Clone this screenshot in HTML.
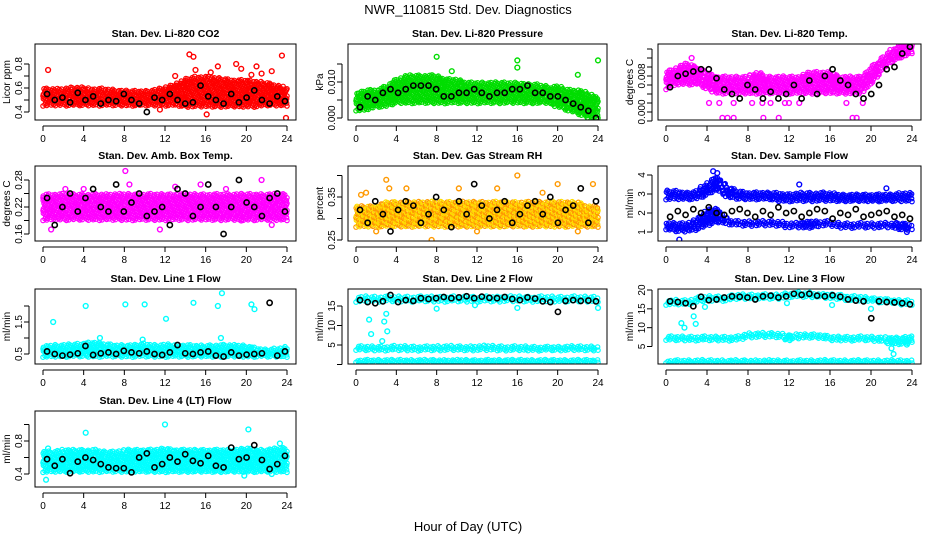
<!DOCTYPE html>
<html><head><meta charset="utf-8"><style>
body{margin:0;background:#fff;}
svg{display:block;font-family:"Liberation Sans",sans-serif;}
</style></head><body>
<svg id="chart" width="936" height="540" viewBox="0 0 936 540">
<text x="468" y="14" text-anchor="middle" font-size="13">NWR_110815  Std. Dev. Diagnostics</text>
<text x="468" y="531" text-anchor="middle" font-size="13">Hour of Day (UTC)</text>
</svg>
<script>
var xTicks = [0,4,8,12,16,20,24];
var titles = ["Stan. Dev. Li-820 CO2","Stan. Dev. Li-820 Pressure","Stan. Dev. Li-820 Temp.","Stan. Dev. Amb. Box Temp.","Stan. Dev. Gas Stream RH","Stan. Dev. Sample Flow","Stan. Dev. Line 1 Flow","Stan. Dev. Line 2 Flow","Stan. Dev. Line 3 Flow","Stan. Dev. Line 4 (LT) Flow"];
var yLabels = ["Licor ppm","kPa","degrees C","degrees C","percent","ml/min","ml/min","ml/min","ml/min","ml/min"];

var co2Lo = [0.45,0.45,0.45,0.45,0.45,0.45,0.45,0.45,0.45,0.45,0.45,0.45,0.45,0.45,0.44,0.44,0.44,0.44,0.44,0.44,0.44,0.44,0.45,0.45,0.45];
var co2Hi = [0.6,0.6,0.6,0.61,0.61,0.6,0.6,0.59,0.58,0.58,0.58,0.59,0.61,0.64,0.68,0.7,0.7,0.69,0.68,0.67,0.67,0.66,0.65,0.63,0.6];
var co2Black = [0.55,0.5,0.52,0.48,0.56,0.5,0.53,0.47,0.5,0.49,0.55,0.5,0.47,0.4,0.52,0.5,0.55,0.5,0.47,0.48,0.62,0.53,0.5,0.47,0.55,0.48,0.52,0.58,0.5,0.47,0.53,0.49];
var co2OutH = [0.5,14.4,14.8,18.2,23.5,23.9,16.1,19,21,15,11.5,17.2,21.5,13,19.5,22.5,16.5,20.5];
var co2OutV = [0.75,0.88,0.86,1.0,0.87,0.35,0.38,0.8,0.78,0.75,0.42,0.78,0.72,0.7,0.76,0.74,0.73,0.71];

var presLo = [0.002,0.002,0.003,0.003,0.004,0.004,0.004,0.004,0.004,0.004,0.004,0.004,0.004,0.004,0.004,0.004,0.004,0.004,0.004,0.004,0.003,0.002,0.001,0.0,0.0];
var presHi = [0.007,0.008,0.008,0.009,0.011,0.012,0.012,0.012,0.012,0.011,0.011,0.01,0.01,0.01,0.01,0.01,0.01,0.0095,0.0095,0.009,0.009,0.008,0.008,0.007,0.006];
var presBlack = [0.003,0.006,0.005,0.007,0.008,0.007,0.008,0.009,0.009,0.009,0.008,0.006,0.006,0.007,0.007,0.008,0.007,0.006,0.007,0.007,0.008,0.008,0.009,0.007,0.007,0.006,0.006,0.005,0.004,0.003,0.002,0.0];
var presOutH = [8,16,24,16,9.5,22];
var presOutV = [0.017,0.014,0.016,0.016,0.013,0.012];

var tempLo = [0.005,0.006,0.006,0.006,0.005,0.004,0.004,0.004,0.004,0.004,0.004,0.004,0.004,0.004,0.004,0.004,0.004,0.004,0.004,0.004,0.006,0.009,0.011,0.012,0.013];
var tempHi = [0.009,0.01,0.011,0.01,0.009,0.008,0.008,0.008,0.008,0.009,0.008,0.008,0.008,0.008,0.009,0.009,0.009,0.008,0.008,0.008,0.01,0.012,0.014,0.0155,0.0155];
var tempBlack = [0.0055,0.008,0.0085,0.009,0.0095,0.0095,0.0075,0.005,0.004,0.003,0.006,0.005,0.003,0.0045,0.003,0.004,0.006,0.003,0.007,0.004,0.008,0.0095,0.007,0.006,0.004,0.003,0.004,0.006,0.0095,0.01,0.013,0.0145];
var tempOutH = [5.5,6,6.6,11,18.2,18.6,9.5,2.5,4.2,6.6,8.4,10.2,12,13,17.6,19.2,5.2,9.4,11.6];
var tempOutV = [-0.0013,-0.0013,-0.0013,-0.0013,-0.0013,-0.0013,-0.0013,0.012,0.002,0.002,0.002,0.002,0.002,0.002,0.002,0.002,0.002,0.002,0.002];

var ambLo = [0.19,0.19,0.19,0.19,0.19,0.19,0.19,0.19,0.19,0.19,0.19,0.19,0.19,0.19,0.19,0.19,0.19,0.19,0.19,0.19,0.19,0.19,0.19,0.19,0.19];
var ambHi = [0.25,0.25,0.25,0.25,0.25,0.25,0.25,0.25,0.25,0.25,0.25,0.25,0.25,0.25,0.25,0.25,0.25,0.25,0.25,0.25,0.25,0.25,0.25,0.25,0.25];
var ambBlack = [0.24,0.18,0.22,0.25,0.21,0.24,0.26,0.22,0.21,0.27,0.21,0.23,0.25,0.2,0.21,0.22,0.18,0.26,0.25,0.2,0.22,0.27,0.22,0.16,0.22,0.28,0.23,0.22,0.2,0.24,0.25,0.21];
var ambOutH = [8.1,0.8,8.5,21.5,15.5,2.2,19.5,22.5,11.5,4,13,18];
var ambOutV = [0.3,0.17,0.27,0.28,0.27,0.26,0.19,0.18,0.17,0.26,0.265,0.26];

var rhLo = [0.28,0.28,0.28,0.28,0.28,0.28,0.28,0.28,0.28,0.28,0.28,0.28,0.28,0.28,0.28,0.28,0.28,0.28,0.28,0.28,0.28,0.28,0.28,0.28,0.28];
var rhHi = [0.33,0.33,0.33,0.34,0.34,0.34,0.34,0.34,0.34,0.34,0.34,0.34,0.34,0.34,0.34,0.34,0.34,0.34,0.34,0.34,0.34,0.34,0.34,0.33,0.33];
var rhBlack = [0.32,0.29,0.34,0.31,0.27,0.32,0.34,0.33,0.29,0.31,0.35,0.32,0.28,0.34,0.31,0.38,0.33,0.3,0.32,0.34,0.29,0.31,0.33,0.34,0.31,0.35,0.29,0.32,0.33,0.37,0.29,0.34];
var rhOutH = [3,3.3,5,10.2,14,23.5,7.5,1,20,16,0.5,2,12,18.5,22];
var rhOutV = [0.39,0.37,0.37,0.37,0.37,0.38,0.25,0.36,0.38,0.4,0.355,0.27,0.27,0.36,0.27];

var sfLo = [2.7,2.7,2.7,2.7,2.9,3.2,2.8,2.7,2.7,2.7,2.7,2.6,2.6,2.6,2.6,2.6,2.6,2.6,2.6,2.6,2.6,2.6,2.6,2.6,2.6];
var sfHi = [3.2,3.2,3.1,3.2,3.6,4.0,3.4,3.2,3.1,3.1,3.1,3.1,3.0,3.1,3.1,3.1,3.1,3.0,3.0,3.0,3.0,3.0,3.0,3.1,3.1];
var sf2Lo = [1.1,1.0,1.0,1.1,1.3,1.5,1.4,1.3,1.3,1.3,1.3,1.3,1.2,1.2,1.2,1.3,1.3,1.2,1.2,1.2,1.2,1.2,1.2,1.1,1.1];
var sf2Hi = [1.5,1.5,1.5,1.7,2.2,2.3,1.7,1.6,1.6,1.6,1.6,1.6,1.5,1.5,1.6,1.6,1.6,1.5,1.5,1.5,1.5,1.5,1.5,1.5,1.4];
var sfBlack = [1.8,2.1,1.9,2.2,2.0,2.3,2.0,1.9,2.1,2.2,2.0,1.8,2.1,1.9,2.3,2.0,2.1,1.8,2.0,2.2,2.1,1.7,2.0,1.9,2.2,1.8,1.9,2.0,2.1,1.8,1.9,1.7];
var sfOutH = [1.3,4.6,5,13,21.5,23.5];
var sfOutV = [0.6,4.2,4.1,3.5,3.3,1.0];

var l1Lo = [0.4,0.4,0.4,0.4,0.4,0.4,0.4,0.4,0.4,0.4,0.4,0.4,0.4,0.4,0.4,0.4,0.4,0.4,0.4,0.4,0.4,0.4,0.4,0.4,0.4];
var l1Hi = [0.75,0.8,0.8,0.82,0.85,0.9,0.85,0.8,0.8,0.8,0.85,0.8,0.82,0.8,0.8,0.78,0.78,0.8,0.8,0.8,0.78,0.7,0.65,0.7,0.75];
var l1Black = [0.58,0.5,0.45,0.48,0.52,0.75,0.47,0.52,0.55,0.5,0.6,0.55,0.52,0.58,0.5,0.47,0.55,0.78,0.52,0.5,0.55,0.58,0.45,0.42,0.55,0.45,0.48,0.5,0.52,2.1,0.45,0.58];
var l1OutH = [1,4.2,8.1,10,12.1,14.8,17.2,17.6,20.5,20.8,5.6,9.8,17.5];
var l1OutV = [1.5,2.0,2.05,2.05,1.6,2.1,2.0,2.4,2.05,1.9,1.0,0.95,1.0];

var l2aLo = [16,16,16,16,16,16,16,16,16,16,16,16,16,16,16,16,16,16,16,16,16,16,16,16,16];
var l2aHi = [17.6,17.6,17.6,17.6,17.6,17.6,17.6,17.6,17.6,17.6,17.6,17.6,17.6,17.6,17.6,17.6,17.6,17.6,17.6,17.6,17.6,17.6,17.6,17.6,17.6];
var l2bLo = [3.5,3.5,3.5,3.5,3.5,3.5,3.5,3.5,3.5,3.5,3.5,3.5,3.5,3.5,3.5,3.5,3.5,3.5,3.5,3.5,3.5,3.5,3.5,3.5,3.5];
var l2bHi = [4.8,4.8,4.8,4.8,4.9,4.9,4.8,4.8,4.9,4.9,4.8,4.8,4.9,5.0,4.9,4.8,4.8,4.8,4.7,4.7,4.7,4.8,4.8,4.8,4.8];
var l2cLo = [0.3,0.3,0.3,0.3,0.3,0.3,0.3,0.3,0.3,0.3,0.3,0.3,0.3,0.3,0.3,0.3,0.3,0.3,0.3,0.3,0.3,0.3,0.3,0.3,0.3];
var l2cHi = [1.3,1.3,1.3,1.3,1.3,1.3,1.3,1.3,1.3,1.3,1.3,1.3,1.3,1.3,1.3,1.3,1.3,1.3,1.3,1.3,1.3,1.3,1.3,1.3,1.3];
var l2Black = [16.5,16,15.7,16.2,17.8,16,16.5,16.3,17,16.8,17,17.3,17,17.2,17.5,17,17.4,17.1,17,17.3,16.8,16.5,17.2,16.9,16.2,16,13.5,16.3,16.5,16.3,16.4,16.2];
var l2OutH = [1.3,1.5,2.6,2.8,3,3.1,8,16,24,11.8];
var l2OutV = [11.5,7.8,6,11,13,8.5,14.3,14.5,14.5,15.2];

var l3aLo = [16,16,16,16.5,17,17,17,17.5,17.5,17.5,17.5,17.5,18,18,18,18,17.5,17.5,17,17,17,16.5,16.5,16,16];
var l3aHi = [17.5,17.5,17.5,18,18.5,18.5,18.5,19,19,19,19,19,19.5,19.5,19.5,19,19,19,18.5,18.5,18,18,17.5,17.5,17.5];
var l3bLo = [6.5,6.5,6.5,6.5,6.5,6.5,6.5,6.5,7.3,7.3,7.3,7.3,6.5,7,7.2,7.2,6.5,6.5,6.5,6.5,6.5,6.2,5.5,5.5,6];
var l3bHi = [7.8,7.8,7.8,7.8,7.8,7.8,7.8,7.8,8.7,8.7,8.7,8.7,8.3,8.4,8.4,8.4,7.8,7.8,7.8,7.8,7.8,7.6,7.5,7.5,8];
var l3cLo = [0.3,0.3,0.3,0.3,0.3,0.3,0.3,0.3,0.3,0.3,0.3,0.3,0.3,0.3,0.3,0.3,0.3,0.3,0.3,0.3,0.3,0.3,0.3,0.3,0.3];
var l3cHi = [1.5,1.5,1.5,1.5,1.5,1.5,1.5,1.5,1.5,1.5,1.5,1.5,1.5,1.5,1.5,1.5,1.5,1.5,1.5,1.5,1.5,1.5,1.5,1.5,1.5];
var l3Black = [17,16.8,16.5,15.7,18.2,17.3,17.5,18,18.3,18.2,18,17.5,18.3,18.5,18,18.3,19,18.7,19,18.5,18.3,18.6,18.2,17.5,17.2,17,12.5,17,16.8,16.7,16.5,16.2];
var l3OutH = [1.5,1.8,2.7,2.9,3.8,11.8,16.2,20,22,22.2,23.5];
var l3OutV = [11.2,10,13,11,15.5,16.5,16,15,4.5,3,5.5];

var l4Lo = [0.42,0.42,0.42,0.42,0.42,0.42,0.42,0.42,0.42,0.42,0.42,0.42,0.42,0.42,0.42,0.42,0.42,0.42,0.42,0.42,0.42,0.42,0.42,0.42,0.42];
var l4Hi = [0.68,0.68,0.7,0.7,0.7,0.7,0.68,0.68,0.7,0.7,0.7,0.7,0.72,0.7,0.7,0.7,0.7,0.7,0.7,0.7,0.72,0.7,0.7,0.72,0.72];
var l4Black = [0.58,0.5,0.58,0.41,0.55,0.6,0.57,0.52,0.48,0.47,0.47,0.42,0.6,0.65,0.48,0.52,0.6,0.55,0.64,0.56,0.53,0.62,0.5,0.48,0.72,0.58,0.6,0.75,0.57,0.46,0.52,0.62];
var l4OutH = [0.3,0.5,4.2,12,20.2,19.8,22.5,23.3];
var l4OutV = [0.33,0.71,0.9,1.0,0.94,0.38,0.4,0.77];

var colsX = [[35,296],[348,607],[658,921]];
var rowsY = [[44,120],[166,241],[289,364],[411,487]];
var panels = [
 {c:0,r:0,ya:[0.4,112,0.8,64],ticks:[0.4,0.5,0.6,0.7,0.8],lab:[0.4,0.6,0.8],fmt:1,col:"#ff0000",bands:[[co2Lo,co2Hi]],blk:co2Black,oh:co2OutH,ov:co2OutV},
 {c:1,r:0,ya:[0,118,0.01,82],ticks:[0,0.005,0.01,0.015],lab:[0,0.01],fmt:3,col:"#00dd00",bands:[[presLo,presHi]],blk:presBlack,oh:presOutH,ov:presOutV},
 {c:2,r:0,ya:[0,112,0.008,76],ticks:[-0.002,0,0.002,0.004,0.006,0.008,0.010,0.012,0.014],lab:[0,0.008],fmt:3,col:"#ff00ff",bands:[[tempLo,tempHi]],blk:tempBlack,oh:tempOutH,ov:tempOutV},
 {c:0,r:1,ya:[0.22,207,0.28,180],ticks:[0.16,0.19,0.22,0.25,0.28],lab:[0.16,0.22,0.28],fmt:2,col:"#ff00ff",bands:[[ambLo,ambHi]],blk:ambBlack,oh:ambOutH,ov:ambOutV},
 {c:1,r:1,ya:[0.25,240,0.35,197],ticks:[0.25,0.30,0.35,0.40],lab:[0.25,0.35],fmt:2,col:"#ff9900",col2:"#ffdd00",bands:[[rhLo,rhHi]],blk:rhBlack,oh:rhOutH,ov:rhOutV},
 {c:2,r:1,ya:[1,232,4,175],ticks:[1,2,3,4],lab:[1,2,3,4],fmt:0,col:"#0000ff",bands:[[sfLo,sfHi],[sf2Lo,sf2Hi]],blk:sfBlack,oh:sfOutH,ov:sfOutV},
 {c:0,r:2,ya:[0.5,354,1.5,322],ticks:[0.5,1,1.5,2],lab:[0.5,1.5],fmt:1,col:"#00ffff",bands:[[l1Lo,l1Hi]],blk:l1Black,oh:l1OutH,ov:l1OutV},
 {c:1,r:2,ya:[5,345,15,306],ticks:[0,5,10,15],lab:[5,10,15],fmt:0,col:"#00ffff",bands:[[l2aLo,l2aHi],[l2bLo,l2bHi],[l2cLo,l2cHi]],blk:l2Black,oh:l2OutH,ov:l2OutV},
 {c:2,r:2,ya:[5,346.5,20,290],ticks:[5,10,15,20],lab:[5,10,15,20],fmt:0,col:"#00ffff",bands:[[l3aLo,l3aHi],[l3bLo,l3bHi],[l3cLo,l3cHi]],blk:l3Black,oh:l3OutH,ov:l3OutV},
 {c:0,r:3,ya:[0.4,474,0.8,441],ticks:[0.4,0.6,0.8,1.0],lab:[0.4,0.8],fmt:1,col:"#00ffff",bands:[[l4Lo,l4Hi]],blk:l4Black,oh:l4OutH,ov:l4OutV}
];

var NS = "http://www.w3.org/2000/svg";
var root = document.getElementById('chart');
function mk(tag, attrs, parent) {
  var e = document.createElementNS(NS, tag);
  for (var k in attrs) { e.setAttribute(k, String(attrs[k])); }
  (parent || root).appendChild(e);
  return e;
}
function interp(arr, h) {
  var i = Math.min(arr.length - 2, Math.floor(h));
  var f = h - i;
  return arr[i] * (1 - f) + arr[i + 1] * f;
}
function drawPanel(p, pi) {
  var x0 = colsX[p.c][0], x1 = colsX[p.c][1], y0 = rowsY[p.r][0], y1 = rowsY[p.r][1];
  var g = mk('g', {});
  
  
  function xs(h) { return x0 + 8 + h * (x1 - x0 - 17) / 24; }
  function ys(v) { return p.ya[1] + (v - p.ya[0]) * (p.ya[3] - p.ya[1]) / (p.ya[2] - p.ya[0]); }
  var clip = mk('clipPath', {id: 'cl' + pi}, g);
  mk('rect', {x: x0, y: y0, width: x1 - x0, height: y1 - y0}, clip);
  var pts = mk('g', {'clip-path': 'url(#cl' + pi + ')'}, g);
  for (var bi = 0; bi < p.bands.length; bi++) {
    var lo = p.bands[bi][0], hi = p.bands[bi][1];
    for (var i = 0; i <= 200; i++) {
      var h = i * 24 / 200;
      var l = interp(lo, h), u = interp(hi, h);
      var px = Math.abs(ys(l) - ys(u));
      var n = Math.max(1, Math.round(px / 4.2));
      for (var k = 0; k < n; k++) {
        var fr = ((i * 37 + k * 61 + bi * 13) % 100) / 100;
        var jx = (((i * 53 + k * 29) % 11) - 5) * 0.02;
        var v = l + (u - l) * ((k + fr) / n);
        var hh = Math.max(0, Math.min(24, h + jx));
        var c = mk('circle', {cx: xs(hh).toFixed(1), cy: ys(v).toFixed(1), r: 2.2, fill: 'none', stroke: (p.col2 && (i + k) % 2) ? p.col2 : p.col, 'stroke-width': 1.2}, pts);
        
        
      }
    }
  }
  for (var j = 0; j < p.oh.length; j++) {
    var oc = mk('circle', {cx: xs(p.oh[j]), cy: ys(p.ov[j]), r: 2.4, fill: 'none', stroke: p.col, 'stroke-width': 1.4}, pts);
    
    
  }
  for (var m = 0; m < p.blk.length; m++) {
    var hb = 0.4 + m * 23.4 / (p.blk.length - 1);
    var bc = mk('circle', {cx: xs(hb), cy: ys(p.blk[m]), r: 2.6, fill: 'none', stroke: '#000', 'stroke-width': 1.6}, pts);
    
    
  }
  var box = mk('rect', {x: x0, y: y0, width: x1 - x0, height: y1 - y0, fill: 'none', stroke: '#000', 'stroke-width': 1}, g);
  
  
  var t = mk('text', {x: (x0 + x1) / 2, y: y0 - 7, 'text-anchor': 'middle', 'font-size': 10.5, 'font-weight': 'bold'}, g);
  t.textContent = titles[pi];
  
  
  var yl = mk('text', {x: 0, y: 0, 'text-anchor': 'middle', 'font-size': 10, transform: 'translate(' + (x0 - 25) + ',' + ((y0 + y1) / 2) + ') rotate(-90)'}, g);
  yl.textContent = yLabels[pi];
  
  
  mk('line', {x1: xs(0), x2: xs(24), y1: y1 + 6, y2: y1 + 6, stroke: '#000'}, g);
  for (var q = 0; q < xTicks.length; q++) {
    var hx = xTicks[q];
    mk('line', {x1: xs(hx), x2: xs(hx), y1: y1 + 6, y2: y1 + 11, stroke: '#000'}, g);
    var tl = mk('text', {x: xs(hx), y: y1 + 22, 'text-anchor': 'middle', 'font-size': 10}, g);
    tl.textContent = String(hx);
    
    
  }
  var tmin = 1e9, tmax = -1e9;
  for (var a = 0; a < p.ticks.length; a++) {
    var ty = ys(p.ticks[a]);
    if (ty < y0 - 1 || ty > y1 + 1) continue;
    tmin = Math.min(tmin, ty); tmax = Math.max(tmax, ty);
    mk('line', {x1: x0 - 11, x2: x0 - 6, y1: ty, y2: ty, stroke: '#000'}, g);
  }
  mk('line', {x1: x0 - 6, x2: x0 - 6, y1: tmin, y2: tmax, stroke: '#000'}, g);
  for (var b = 0; b < p.lab.length; b++) {
    var yv = p.lab[b];
    var tt = mk('text', {x: 0, y: 0, 'text-anchor': 'middle', 'font-size': 10, transform: 'translate(' + (x0 - 13) + ',' + ys(yv) + ') rotate(-90)'}, g);
    tt.textContent = yv.toFixed(p.fmt);
    
    
  }
}
for (var pi = 0; pi < panels.length; pi++) {
  try { drawPanel(panels[pi], pi); } catch (err) { console.log(err); }
}
</script>
</body></html>
